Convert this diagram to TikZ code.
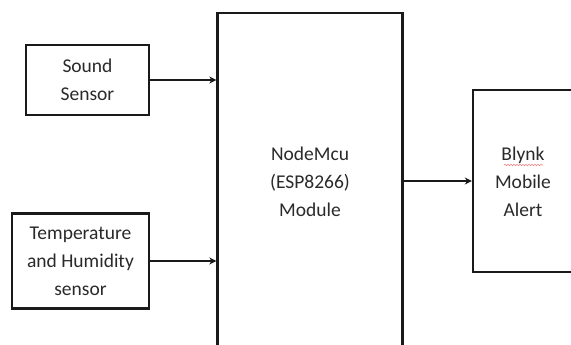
\documentclass[tikz,border=0pt]{standalone}
\usepackage{fontspec}
\setmainfont{Carlito}
\usetikzlibrary{arrows.meta,decorations.pathmorphing}
\definecolor{txt}{HTML}{2A2A2A}
\definecolor{ln}{HTML}{1A1A1A}
\definecolor{spell}{HTML}{F08080}
\begin{document}
\begin{tikzpicture}[x=1pt,y=-1pt,
  blockbox/.style={draw=ln,line width=2.4pt,fill=white,align=center,inner sep=0pt,
    text=txt,font=\fontsize{19.5}{28}\selectfont},
  lbl/.style={text=txt,font=\fontsize{19.5}{28}\selectfont,align=center},
  conn/.style={draw=ln,line width=2.4pt,-{Stealth[length=7pt,width=7pt]}}]
\useasboundingbox (0,0) rectangle (571,345);
\clip (0,0) rectangle (571,345);
\fill[white] (0,0) rectangle (571,345);
\node[blockbox,minimum width=123pt,minimum height=70pt] (snd) at (87.5,80) {Sound\\Sensor};
\node[blockbox,minimum width=137pt,minimum height=95pt] (tmp) at (80.5,261) {Temperature\\and Humidity\\sensor};
\node[blockbox,minimum width=185pt,minimum height=357pt] (mcu) at (310,191.5) {};
\node[lbl] (mcutxt) at (310,182) {NodeMcu\\(ESP8266)\\Module};
\node[blockbox,minimum width=102pt,minimum height=182pt] (bly) at (524,181) {};
\node[lbl] (blytxt) at (523,182) {Blynk\\Mobile\\Alert};
\coordinate (sq1) at (504,165);
\coordinate (sq2) at (543,165);
\draw[spell,line width=0.6pt,decorate,decoration={snake,amplitude=0.7pt,segment length=3pt}] (sq1) -- (sq2);
\draw[conn] (snd.east) -- (mcu.west |- snd.east);
\draw[conn] (tmp.east) -- (mcu.west |- tmp.east);
\draw[conn] (mcu.east |- bly.west) -- (bly.west);
\end{tikzpicture}
\end{document}
